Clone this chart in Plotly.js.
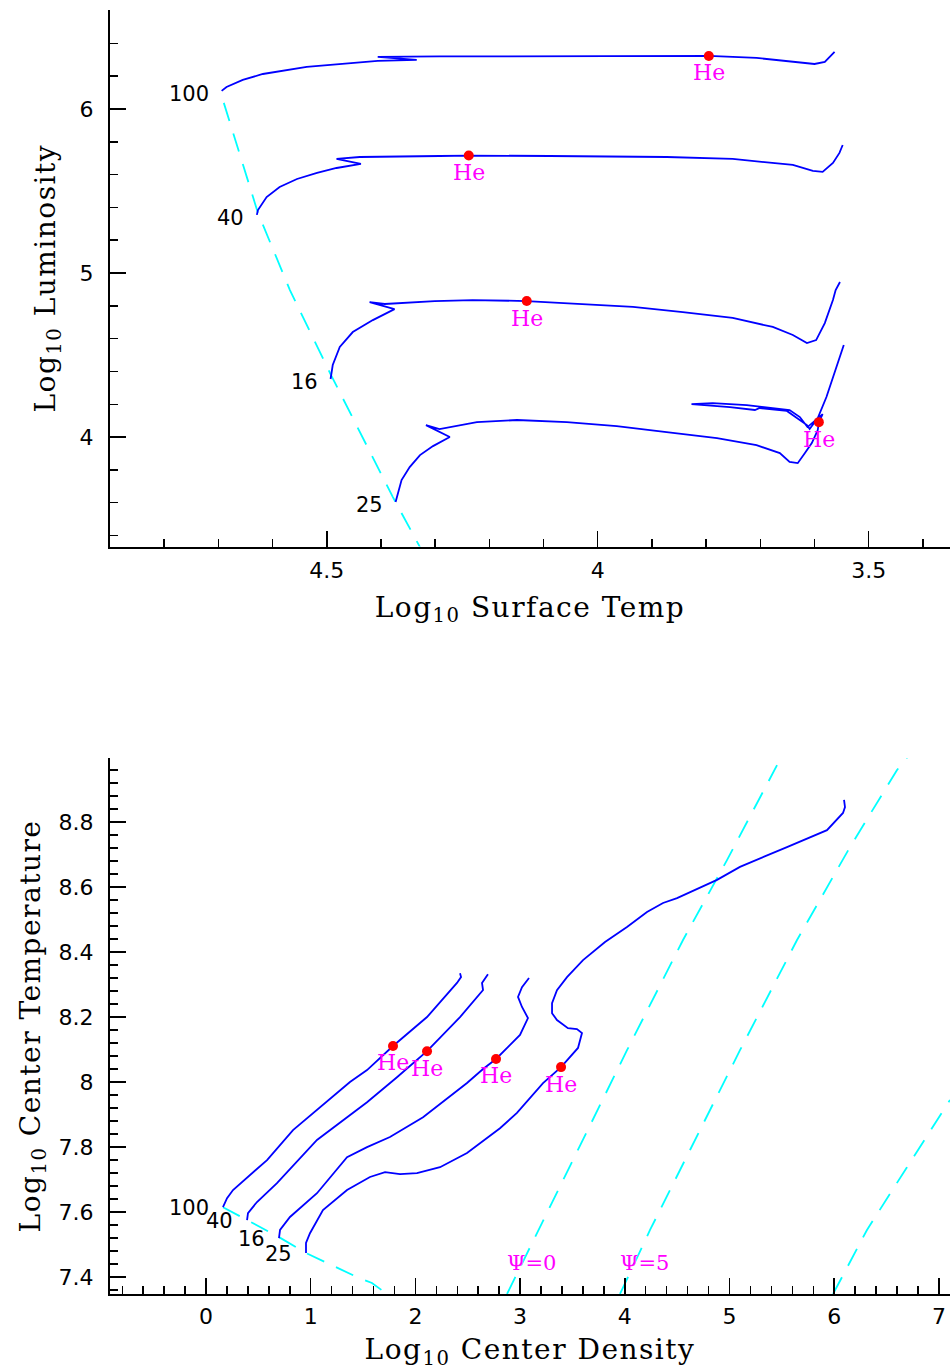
<!DOCTYPE html>
<html><head><meta charset="utf-8">
<script src="https://cdn.plot.ly/plotly-3.0.1.min.js"></script>
<style>
html,body{margin:0;padding:0;background:#fff}
text.xtitle, text.ytitle, text.x2title, text.y2title { letter-spacing: 1.5px; }
</style>
</head><body><div id="chart" style="width:950px;height:1370px"></div>
<script>
// ---- labels ----
const masses = ['100', '40', '16', '25'];
const heText = 'He';
const psiLabels = ['Ψ=0', 'Ψ=5'];

// ---- HR diagram: log Teff / log L ----
const hr100T = [4.694,4.685,4.655,4.618,4.537,4.458,4.406,4.334,4.406,4.292,4.089,3.904,3.795,3.707,3.659,3.627,3.600,3.581,3.563];
const hr100L = [6.110,6.134,6.177,6.213,6.256,6.280,6.293,6.299,6.317,6.320,6.323,6.323,6.323,6.311,6.293,6.280,6.274,6.287,6.348];
const hr40T = [4.629,4.627,4.611,4.587,4.555,4.518,4.482,4.437,4.482,4.439,4.292,4.238,4.089,3.873,3.751,3.688,3.640,3.603,3.585,3.566,3.554,3.548];
const hr40L = [5.354,5.384,5.463,5.524,5.573,5.610,5.640,5.665,5.695,5.707,5.713,5.716,5.713,5.707,5.695,5.677,5.659,5.622,5.616,5.671,5.732,5.780];
const hr16T = [4.493,4.489,4.476,4.452,4.415,4.393,4.375,4.421,4.393,4.301,4.231,4.131,3.935,3.843,3.751,3.677,3.640,3.614,3.597,3.581,3.566,3.561,3.553];
const hr16L = [4.354,4.439,4.549,4.640,4.713,4.750,4.780,4.823,4.811,4.829,4.835,4.829,4.793,4.762,4.726,4.671,4.622,4.573,4.591,4.695,4.835,4.896,4.945];
const hr25T = [4.373,4.369,4.362,4.347,4.328,4.304,4.273,4.317,4.292,4.223,4.149,4.057,3.965,3.873,3.780,3.707,3.664,3.646,3.631,3.618,3.605,3.594,3.592,3.585,3.613,3.627,3.646,3.725,3.788,3.827,3.756,3.710,3.701,3.651,3.614,3.609,3.594,3.578,3.563,3.546];
const hr25L = [3.604,3.659,3.738,3.817,3.890,3.945,4.000,4.073,4.049,4.091,4.104,4.091,4.067,4.030,3.994,3.951,3.902,3.848,3.841,3.902,3.963,4.043,4.091,4.140,4.061,4.122,4.165,4.195,4.207,4.201,4.183,4.165,4.177,4.159,4.073,4.049,4.116,4.244,4.390,4.561];
const hrZamsT = [4.690,4.627,4.568,4.494,4.378,4.328];
const hrZamsL = [6.037,5.366,4.896,4.390,3.634,3.329];
const hrHeT = [3.795,4.238,4.131,3.592];
const hrHeL = [6.323,5.716,4.829,4.091];

// ---- Central conditions: log rho_c / log T_c ----
const c100R = [0.162,0.201,0.258,0.583,0.831,1.089,1.375,1.538,1.786,2.111,2.397,2.436,2.426];
const c100T = [7.615,7.643,7.668,7.760,7.852,7.923,8.000,8.037,8.111,8.200,8.305,8.323,8.335];
const c40R = [0.392,0.401,0.487,0.678,1.060,1.538,1.824,2.111,2.426,2.646,2.636,2.693];
const c40T = [7.575,7.597,7.631,7.689,7.822,7.938,8.015,8.095,8.200,8.283,8.305,8.332];
const c16R = [0.697,0.707,0.802,1.060,1.347,1.538,1.757,2.073,2.493,2.646,2.770,2.999,3.075,3.018,2.980,3.018,3.085];
const c16T = [7.520,7.545,7.585,7.658,7.769,7.800,7.831,7.892,7.997,8.040,8.071,8.145,8.197,8.231,8.262,8.292,8.320];
const c25R = [0.955,0.955,0.993,1.117,1.347,1.566,1.710,1.853,2.015,2.235,2.493,2.808,2.970,3.219,3.391,3.553,3.591,3.543,3.457,3.352,3.305,3.305,3.352,3.448,3.601,3.811,4.021,4.212,4.365,4.499,4.881,5.100,5.549,5.931,6.084,6.103,6.094];
const c25T = [7.474,7.505,7.535,7.606,7.668,7.708,7.723,7.717,7.720,7.738,7.782,7.858,7.905,7.997,8.046,8.105,8.151,8.163,8.166,8.191,8.212,8.243,8.283,8.323,8.375,8.431,8.477,8.523,8.551,8.566,8.622,8.662,8.723,8.775,8.828,8.846,8.868];
const cZamsR = [0.162,0.392,0.697,0.955,1.442,1.585,1.729];
const cZamsT = [7.615,7.575,7.523,7.474,7.400,7.382,7.348];
const psi0R = [2.875,3.190,3.639,4.021,4.556,4.976,5.454];
const psi0T = [7.348,7.554,7.852,8.098,8.437,8.683,8.975];
const psi5R = [3.954,4.241,4.623,5.100,5.645,6.151,6.600,6.695];
const psi5T = [7.348,7.545,7.791,8.098,8.437,8.723,8.960,8.997];
const psi3R = [5.989,6.313,6.695,7.106];
const psi3T = [7.348,7.545,7.738,7.945];
const cHeR = [1.786,2.111,2.770,3.391];
const cHeT = [8.111,8.095,8.071,8.046];

// ---- styles ----
const BLUE = '#0000ff', CYAN = '#00ffff', RED = '#ff0000', MAG = '#ff00ff';
const trackLine = {color: BLUE, width: 1.8};
const dashLine = {color: CYAN, width: 1.8, dash: '19px,13px'};

const hrTracks = [[hr100T, hr100L], [hr40T, hr40L], [hr16T, hr16L], [hr25T, hr25L]];
const cTracks = [[c100R, c100T], [c40R, c40T], [c16R, c16T], [c25R, c25T]];

const traces = [];
traces.push({x: hrZamsT, y: hrZamsL, mode: 'lines', line: dashLine, xaxis: 'x', yaxis: 'y', hoverinfo: 'skip'});
hrTracks.forEach((t, i) => traces.push({x: t[0], y: t[1], mode: 'lines', line: trackLine, name: masses[i], xaxis: 'x', yaxis: 'y'}));
traces.push({x: hrHeT, y: hrHeL, mode: 'markers', marker: {color: RED, size: 10}, xaxis: 'x', yaxis: 'y'});

traces.push({x: cZamsR, y: cZamsT, mode: 'lines', line: dashLine, xaxis: 'x2', yaxis: 'y2', hoverinfo: 'skip'});
[[psi0R, psi0T], [psi5R, psi5T], [psi3R, psi3T]].forEach(p => traces.push({x: p[0], y: p[1], mode: 'lines', line: dashLine, xaxis: 'x2', yaxis: 'y2'}));
cTracks.forEach((t, i) => traces.push({x: t[0], y: t[1], mode: 'lines', line: trackLine, name: masses[i], xaxis: 'x2', yaxis: 'y2'}));
traces.push({x: cHeR, y: cHeT, mode: 'markers', marker: {color: RED, size: 10}, xaxis: 'x2', yaxis: 'y2'});

const annotations = [];
const labFont = {family: 'DejaVu Sans', size: 21, color: '#000'};
const heFont = {family: 'DejaVu Serif', size: 22, color: MAG};
hrTracks.forEach((t, i) => annotations.push({x: t[0][0], y: t[1][0], xref: 'x', yref: 'y', text: masses[i], showarrow: false, xanchor: 'right', yanchor: 'middle', xshift: -11, yshift: -3, font: labFont}));
cTracks.forEach((t, i) => annotations.push({x: t[0][0], y: t[1][0], xref: 'x2', yref: 'y2', text: masses[i], showarrow: false, xanchor: 'right', yanchor: 'middle', xshift: -12, yshift: -1, font: labFont}));
hrHeT.forEach((v, i) => annotations.push({x: v, y: hrHeL[i], xref: 'x', yref: 'y', text: heText, showarrow: false, yanchor: 'middle', yshift: -17, font: heFont}));
cHeR.forEach((v, i) => annotations.push({x: v, y: cHeT[i], xref: 'x2', yref: 'y2', text: heText, showarrow: false, yanchor: 'middle', yshift: -17, font: heFont}));
[[psi0R, psi0T], [psi5R, psi5T]].forEach((p, i) => annotations.push({x: p[0][0], y: p[1][0], xref: 'x2', yref: 'y2', text: psiLabels[i], showarrow: false, xanchor: 'left', yanchor: 'middle', xshift: -2, yshift: 31, font: {family: 'DejaVu Serif', size: 21, color: MAG}}));

const tickFont = {family: 'DejaVu Sans', size: 22, color: '#000'};
const titleFont = {family: 'DejaVu Serif', size: 28, color: '#000'};
const minorT = (d) => ({dtick: d, ticklen: 8, ticks: 'inside', tickcolor: '#000', tickwidth: 1.5, showgrid: false});
const ax = {showline: true, linecolor: '#000', linewidth: 2, ticks: 'inside', ticklen: 16, tickwidth: 1.5, tickcolor: '#000',
  showgrid: false, zeroline: false, tickfont: tickFont, ticklabelstandoff: 10, automargin: false, fixedrange: true};

const W = 950, H = 1370;
const layout = {
  width: W, height: H, margin: {l: 0, r: 0, t: 0, b: 0},
  paper_bgcolor: '#fff', plot_bgcolor: '#fff', showlegend: false,
  xaxis: Object.assign({}, ax, {domain: [110 / W, 1], range: [4.9, 3.35], dtick: 0.5, tick0: 0, minor: minorT(0.1), ticklabelstandoff: 3,
    anchor: 'y', title: {text: 'Log<sub>10</sub> Surface Temp', font: titleFont, standoff: 15}}),
  yaxis: Object.assign({}, ax, {domain: [1 - 546.5 / H, 1 - 10 / H], range: [3.333, 6.603], dtick: 1, tick0: 0, minor: minorT(0.2),
    anchor: 'x', title: {text: 'Log<sub>10</sub> Luminosity', font: titleFont, standoff: 16}}),
  xaxis2: Object.assign({}, ax, {domain: [110 / W, 1], range: [-0.917, 7.106], dtick: 1, tick0: 0, minor: minorT(0.2), ticklabelstandoff: 2,
    anchor: 'y2', title: {text: 'Log<sub>10</sub> Center Density', font: titleFont, standoff: 19}}),
  yaxis2: Object.assign({}, ax, {domain: [1 - 1294 / H, 1 - 758 / H], range: [7.348, 8.997], dtick: 0.2, tick0: 0, minor: minorT(0.04),
    anchor: 'x2', title: {text: 'Log<sub>10</sub> Center Temperature', font: titleFont, standoff: 10}}),
  annotations: annotations
};

Plotly.newPlot('chart', traces, layout, {staticPlot: true, displayModeBar: false});
</script></body></html>
